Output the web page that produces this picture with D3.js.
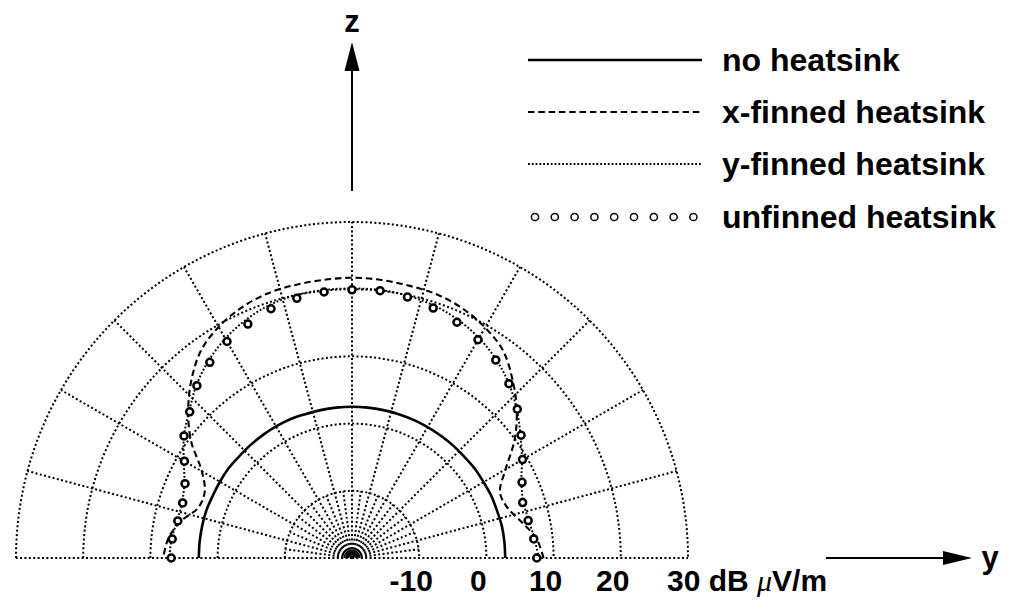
<!DOCTYPE html>
<html>
<head>
<meta charset="utf-8">
<script src="https://cdn.jsdelivr.net/npm/d3@7/dist/d3.min.js"></script>
<style>
  body { margin: 0; background: #fff; }
  svg text { font-family: 'Liberation Sans', Arial, sans-serif; font-weight: bold; fill: #000; }
</style>
</head>
<body>
<div id="chart"></div>
<script>
// angle of each measurement in degrees: 0 = +y, 90 = +z, 180 = -y
const angles = [0, 6, 12, 18, 24, 30, 36, 42, 48, 54, 60, 66, 72, 78, 84, 90,
  96, 102, 108, 114, 120, 126, 132, 138, 144, 150, 156, 162, 168, 174, 180];

// field strength, dB uV/m
const noHeatsink = [2.8, 2.8, 2.8, 2.7, 2.7, 2.6, 2.6, 2.5, 2.5, 2.5, 2.5, 2.5, 2.5, 2.5, 2.5, 2.5,
  2.5, 2.5, 2.5, 2.6, 2.6, 2.6, 2.6, 2.6, 2.7, 2.7, 2.7, 2.8, 2.8, 2.8, 2.8];
const xFinned = [8.5, 7.6, 5.8, 4.3, 4.1, 6.4, 9.9, 13.0, 15.7, 18.2, 19.6, 20.6, 21.2, 21.4, 21.6, 21.7,
  21.6, 21.5, 21.3, 20.7, 19.7, 18.2, 15.7, 12.8, 9.6, 5.8, 4.0, 4.1, 6.1, 7.5, 8.1];
const yFinned = [7.8, 7.3, 6.9, 6.8, 7.6, 9.2, 11.0, 13.0, 14.9, 16.5, 17.8, 18.8, 19.5, 19.9, 20.1, 20.1,
  20.1, 20.0, 19.6, 18.8, 17.7, 16.3, 14.6, 12.6, 10.9, 8.9, 7.3, 6.6, 6.6, 7.0, 7.2];
const unfinned = [7.5, 7.2, 6.8, 6.7, 7.7, 9.3, 11.1, 13.1, 14.9, 16.4, 17.5, 18.4, 19.1, 19.7, 20.0, 19.9,
  19.8, 19.5, 19.0, 18.1, 17.2, 16.0, 14.5, 12.5, 10.9, 8.8, 7.2, 6.5, 6.5, 6.9, 6.9];

const ringTicks = [-10, 0, 10, 20, 30];
const legendLabels = ['no heatsink', 'x-finned heatsink', 'y-finned heatsink', 'unfinned heatsink'];

const width = 1018;
const height = 603;
const cx = 352;
const cy = 558;
const outerR = 336;

const svg = d3
  .select('#chart')
  .append('svg')
  .attr('width', width)
  .attr('height', height);

const r = d3.scaleLinear().domain([-20, 30]).range([0, outerR]);
const theta = d3.scaleLinear().domain([0, 180]).range([0, Math.PI]);
const px = (deg, v) => cx + r(v) * Math.cos(theta(deg));
const py = (deg, v) => cy - r(v) * Math.sin(theta(deg));

////// GRID //////
const grid = svg
  .append('g')
  .attr('fill', 'none')
  .attr('stroke', '#000')
  .attr('stroke-width', 2)
  .attr('stroke-dasharray', '2,2.4');

const halfCircle = function (rad) {
  const p = d3.path();
  p.arc(cx, cy, rad, Math.PI, 2 * Math.PI);
  return p.toString();
};

grid
  .selectAll('.ring')
  .data(ringTicks)
  .join('path')
  .attr('class', 'ring')
  .attr('d', (d) => halfCircle(r(d)));

// long spokes every 15 deg, short ones in between inside the -10 ring
grid
  .selectAll('.spoke')
  .data(d3.range(0, 181, 15))
  .join('line')
  .attr('class', 'spoke')
  .attr('x1', cx)
  .attr('y1', cy)
  .attr('x2', (d) => px(d, 30))
  .attr('y2', (d) => py(d, 30));

grid
  .selectAll('.minor-spoke')
  .data(d3.range(7.5, 180, 15))
  .join('line')
  .attr('class', 'minor-spoke')
  .attr('x1', cx)
  .attr('y1', cy)
  .attr('x2', (d) => px(d, -10))
  .attr('y2', (d) => py(d, -10));

svg
  .append('g')
  .attr('fill', 'none')
  .attr('stroke', '#000')
  .attr('stroke-width', 1.8)
  .selectAll('path')
  .data([3.5, 7.5])
  .join('path')
  .attr('d', (d) => halfCircle(d));

////// CURVES //////
const toPoints = (vals) => angles.map((a, i) => ({ a: a, v: vals[i] }));

const line = d3
  .line()
  .x((d) => px(d.a, d.v))
  .y((d) => py(d.a, d.v))
  .curve(d3.curveCatmullRom);

const series = [
  { values: noHeatsink, width: 2.6, dash: null },
  { values: xFinned, width: 2.1, dash: '6.5,3.8' },
  { values: yFinned, width: 2, dash: '1.8,2' },
];

svg
  .append('g')
  .selectAll('path')
  .data(series)
  .join('path')
  .attr('fill', 'none')
  .attr('stroke', '#000')
  .attr('stroke-width', (d) => d.width)
  .attr('stroke-dasharray', (d) => d.dash)
  .attr('d', (d) => line(toPoints(d.values)));

svg
  .append('g')
  .selectAll('circle')
  .data(toPoints(unfinned))
  .join('circle')
  .attr('cx', (d) => px(d.a, d.v))
  .attr('cy', (d) => py(d.a, d.v))
  .attr('r', 3.5)
  .attr('fill', '#fff')
  .attr('stroke', '#000')
  .attr('stroke-width', 2.5);

////// RING LABELS //////
svg
  .selectAll('.tick-label')
  .data(ringTicks.slice(0, 4))
  .join('text')
  .attr('class', 'tick-label')
  .attr('x', (d) => cx + r(d) - 8)
  .attr('y', 591)
  .attr('text-anchor', 'middle')
  .style('font-size', '30px')
  .text((d) => d);

const unitLabel = svg
  .append('text')
  .attr('x', cx + r(30) - 21)
  .attr('y', 591)
  .style('font-size', '30px');
unitLabel.append('tspan').text('30 dB ');
unitLabel
  .append('tspan')
  .style('font-family', "'Liberation Serif', serif")
  .style('font-style', 'italic')
  .style('font-weight', 'normal')
  .text('\u03bc');
unitLabel.append('tspan').text('V/m');

////// AXES ARROWS //////
svg
  .append('line')
  .attr('x1', cx)
  .attr('y1', 191)
  .attr('x2', cx)
  .attr('y2', 68)
  .attr('stroke', '#000')
  .attr('stroke-width', 2);
svg
  .append('path')
  .attr('d', `M${cx},42 L${cx - 7.5},71 L${cx + 7.5},71 Z`)
  .attr('fill', '#000');
svg
  .append('text')
  .attr('x', cx)
  .attr('y', 32)
  .attr('text-anchor', 'middle')
  .style('font-size', '31px')
  .text('z');

svg
  .append('line')
  .attr('x1', 826)
  .attr('y1', cy)
  .attr('x2', 946)
  .attr('y2', cy)
  .attr('stroke', '#000')
  .attr('stroke-width', 2);
svg
  .append('path')
  .attr('d', `M972,${cy} L943,${cy - 7} L943,${cy + 7} Z`)
  .attr('fill', '#000');
svg
  .append('text')
  .attr('x', 990)
  .attr('y', 568)
  .attr('text-anchor', 'middle')
  .style('font-size', '31px')
  .text('y');

////// LEGEND //////
const legendY = [60, 112, 164, 217];
const legendX0 = 528;
const legendX1 = 702;

const legend = svg.append('g');
series.forEach((s, i) => {
  legend
    .append('line')
    .attr('x1', legendX0)
    .attr('x2', legendX1)
    .attr('y1', legendY[i])
    .attr('y2', legendY[i])
    .attr('stroke', '#000')
    .attr('stroke-width', s.width)
    .attr('stroke-dasharray', s.dash);
});

legend
  .selectAll('circle')
  .data(d3.range(9))
  .join('circle')
  .attr('cx', (d) => 535 + d * 19.8)
  .attr('cy', legendY[3])
  .attr('r', 3.6)
  .attr('fill', 'none')
  .attr('stroke', '#000')
  .attr('stroke-width', 1.5);

legend
  .selectAll('text')
  .data(legendLabels)
  .join('text')
  .attr('x', 722)
  .attr('y', (d, i) => legendY[i] + 11)
  .style('font-size', '32px')
  .text((d) => d);
</script>
</body>
</html>
